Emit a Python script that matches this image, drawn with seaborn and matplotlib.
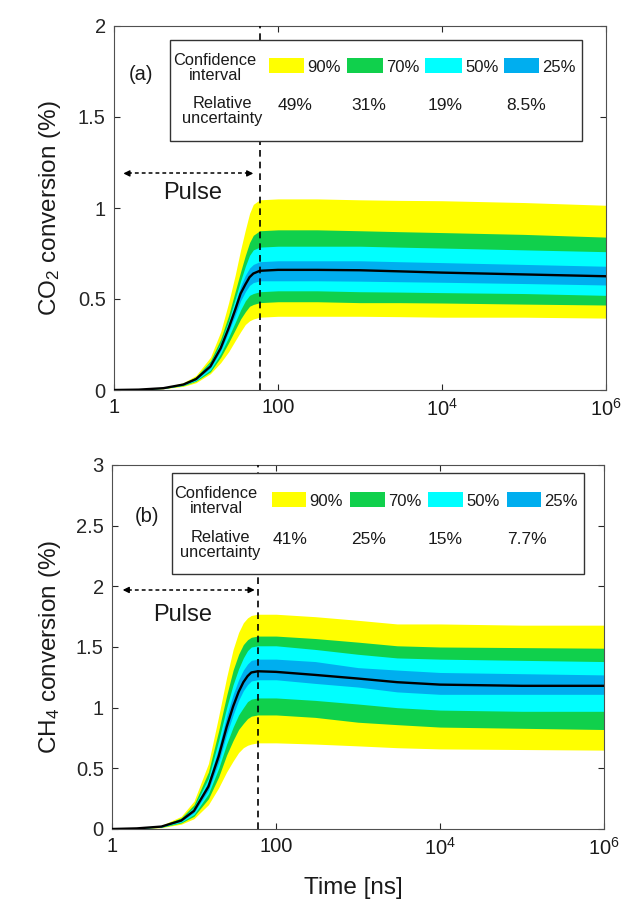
import numpy as np
import pandas as pd
import matplotlib
matplotlib.use("Agg")
import matplotlib.pyplot as plt
from matplotlib.patches import Rectangle
from matplotlib.ticker import FixedLocator, FixedFormatter, FuncFormatter, NullLocator
import seaborn as sns

# ---------------- data ----------------
times = [1, 2, 4, 7, 10, 15, 20, 25, 30, 35, 40, 45, 50, 60, 100, 300, 1e3, 3e3, 1e4, 1e5, 1e6]

co2_median    = [0, 0.002, 0.01, 0.03, 0.06, 0.13, 0.23, 0.34, 0.44, 0.53, 0.58, 0.62, 0.64, 0.655, 0.66, 0.66, 0.658, 0.652, 0.645, 0.635, 0.625]
co2_blue_hi   = [0, 0.0021, 0.0105, 0.032, 0.064, 0.14, 0.245, 0.36, 0.47, 0.57, 0.63, 0.67, 0.69, 0.705, 0.71, 0.71, 0.71, 0.705, 0.70, 0.69, 0.68]
co2_blue_lo   = [0, 0.0019, 0.0095, 0.028, 0.056, 0.12, 0.215, 0.32, 0.41, 0.49, 0.54, 0.575, 0.59, 0.60, 0.60, 0.60, 0.598, 0.595, 0.592, 0.585, 0.577]
co2_cyan_hi   = [0, 0.0023, 0.011, 0.034, 0.068, 0.15, 0.26, 0.38, 0.50, 0.60, 0.68, 0.74, 0.77, 0.785, 0.79, 0.79, 0.79, 0.785, 0.78, 0.77, 0.76]
co2_cyan_lo   = [0, 0.0017, 0.009, 0.026, 0.052, 0.11, 0.20, 0.29, 0.37, 0.44, 0.49, 0.52, 0.53, 0.54, 0.545, 0.545, 0.54, 0.538, 0.535, 0.53, 0.52]
co2_green_hi  = [0, 0.0025, 0.012, 0.036, 0.072, 0.16, 0.28, 0.41, 0.54, 0.65, 0.74, 0.81, 0.85, 0.875, 0.88, 0.88, 0.875, 0.87, 0.865, 0.855, 0.84]
co2_green_lo  = [0, 0.0015, 0.008, 0.024, 0.048, 0.10, 0.18, 0.26, 0.33, 0.39, 0.43, 0.46, 0.47, 0.48, 0.485, 0.485, 0.48, 0.48, 0.478, 0.472, 0.467]
co2_yellow_hi = [0, 0.003, 0.013, 0.04, 0.08, 0.18, 0.32, 0.48, 0.63, 0.77, 0.88, 0.97, 1.02, 1.045, 1.05, 1.05, 1.045, 1.042, 1.04, 1.03, 1.015]
co2_yellow_lo = [0, 0.001, 0.007, 0.02, 0.04, 0.09, 0.15, 0.21, 0.27, 0.32, 0.36, 0.38, 0.39, 0.40, 0.405, 0.405, 0.405, 0.403, 0.40, 0.40, 0.395]

ch4_median    = [0, 0.005, 0.02, 0.07, 0.15, 0.35, 0.60, 0.84, 1.01, 1.13, 1.21, 1.26, 1.29, 1.30, 1.295, 1.27, 1.24, 1.21, 1.19, 1.18, 1.18]
ch4_blue_hi   = [0, 0.0055, 0.022, 0.077, 0.165, 0.39, 0.67, 0.93, 1.11, 1.23, 1.31, 1.36, 1.39, 1.40, 1.40, 1.38, 1.33, 1.31, 1.29, 1.28, 1.27]
ch4_blue_lo   = [0, 0.0045, 0.018, 0.063, 0.135, 0.32, 0.55, 0.78, 0.94, 1.06, 1.14, 1.19, 1.22, 1.23, 1.23, 1.20, 1.17, 1.13, 1.11, 1.11, 1.11]
ch4_cyan_hi   = [0, 0.006, 0.024, 0.084, 0.18, 0.42, 0.73, 1.00, 1.19, 1.32, 1.41, 1.47, 1.50, 1.51, 1.51, 1.48, 1.44, 1.41, 1.40, 1.39, 1.38]
ch4_cyan_lo   = [0, 0.004, 0.016, 0.057, 0.12, 0.29, 0.50, 0.70, 0.84, 0.94, 1.00, 1.05, 1.07, 1.08, 1.08, 1.06, 1.03, 1.00, 0.98, 0.97, 0.97]
ch4_green_hi  = [0, 0.0065, 0.026, 0.092, 0.20, 0.47, 0.81, 1.10, 1.31, 1.44, 1.52, 1.56, 1.58, 1.59, 1.59, 1.57, 1.54, 1.51, 1.50, 1.495, 1.49]
ch4_green_lo  = [0, 0.0035, 0.014, 0.05, 0.105, 0.25, 0.43, 0.61, 0.73, 0.82, 0.87, 0.91, 0.93, 0.94, 0.94, 0.92, 0.88, 0.86, 0.84, 0.83, 0.82]
ch4_yellow_hi = [0, 0.007, 0.029, 0.105, 0.23, 0.54, 0.93, 1.25, 1.48, 1.62, 1.70, 1.74, 1.76, 1.77, 1.77, 1.75, 1.72, 1.69, 1.69, 1.68, 1.68]
ch4_yellow_lo = [0, 0.003, 0.011, 0.04, 0.085, 0.20, 0.34, 0.47, 0.56, 0.63, 0.67, 0.69, 0.70, 0.71, 0.71, 0.70, 0.685, 0.67, 0.66, 0.655, 0.65]

conf_labels = ["90%", "70%", "50%", "25%"]
co2_uncert = ["49%", "31%", "19%", "8.5%"]
ch4_uncert = ["41%", "25%", "15%", "7.7%"]
x_ticks = [1, 100, 1e4, 1e6]
x_ticklabels = ["1", "100", "$10^4$", "$10^6$"]
pulse_end = 60

band_colors = ["#ffff00", "#10d04c", "#00ffff", "#00aeef"]

# ---------------- style ----------------
sns.set_theme(style="ticks")
plt.rcParams["font.family"] = ["Liberation Sans", "DejaVu Sans"]
plt.rcParams["mathtext.fontset"] = "custom"
plt.rcParams["mathtext.rm"] = "Liberation Sans"
plt.rcParams["mathtext.it"] = "Liberation Sans:italic"

W, H = 636, 906
fig = plt.figure(figsize=(W / 100, H / 100), dpi=100)

def make_ax(l, r, t, b):
    return fig.add_axes([l / W, 1 - b / H, (r - l) / W, (b - t) / H])

ax_top = make_ax(114, 606, 26, 390)
ax_bot = make_ax(112, 604, 465, 829)

panels = [
    dict(ax=ax_top, px=(114, 606, 26, 390), ymax=2, yticks=[0, 0.5, 1, 1.5, 2],
         ylabel="CO$_2$ conversion (%)", med=co2_median,
         bands=[(co2_yellow_lo, co2_yellow_hi), (co2_green_lo, co2_green_hi),
                (co2_cyan_lo, co2_cyan_hi), (co2_blue_lo, co2_blue_hi)],
         uncert=co2_uncert, tag="(a)", tagpos=(141, 75),
         box=(170, 582, 40, 141), conf_c=(215, 68), rel_c=(222, 111), val_y=106,
         sw=[(269, 304), (347, 383), (425, 462), (504, 539)], sw_y=(58, 73),
         val_x=[295, 369, 445, 526],
         pulse=dict(x0=1.3, x1=50, y=1.19, tx=(193, 193))),
    dict(ax=ax_bot, px=(112, 604, 465, 829), ymax=3, yticks=[0, 0.5, 1, 1.5, 2, 2.5, 3],
         ylabel="CH$_4$ conversion (%)", med=ch4_median,
         bands=[(ch4_yellow_lo, ch4_yellow_hi), (ch4_green_lo, ch4_green_hi),
                (ch4_cyan_lo, ch4_cyan_hi), (ch4_blue_lo, ch4_blue_hi)],
         uncert=ch4_uncert, tag="(b)", tagpos=(147, 517),
         box=(172, 584, 473, 574), conf_c=(216, 501), rel_c=(220, 545), val_y=540,
         sw=[(272, 306), (350, 385), (428, 463), (507, 541)], sw_y=(492, 507),
         val_x=[290, 369, 445, 527],
         pulse=dict(x0=1.35, x1=55, y=1.97, tx=(183, 615))),
]

for p in panels:
    ax = p["ax"]
    l, r, t, b = p["px"]
    fx = lambda px: (px - l) / (r - l)
    fy = lambda py: (b - py) / (b - t)

    for (lo, hi), c in zip(p["bands"], band_colors):
        ax.fill_between(times, lo, hi, color=c, linewidth=0, zorder=1)
    df = pd.DataFrame({"t": times, "v": p["med"]})
    sns.lineplot(data=df, x="t", y="v", ax=ax, color="black", linewidth=1.7, zorder=3)

    ax.axvline(pulse_end, color="black", linewidth=1.2, linestyle=(0, (4, 3)), zorder=4)

    ax.set_xscale("log")
    ax.set_xlim(1, 1e6)
    ax.set_ylim(0, p["ymax"])
    ax.xaxis.set_major_locator(FixedLocator(x_ticks))
    ax.xaxis.set_major_formatter(FixedFormatter(x_ticklabels))
    ax.xaxis.set_minor_locator(NullLocator())
    ax.yaxis.set_major_locator(FixedLocator(p["yticks"]))
    ax.yaxis.set_major_formatter(FuncFormatter(lambda v, pos: "%g" % v))
    ax.tick_params(direction="in", length=4, width=0.8, labelsize=14.5, pad=6,
                   top=True, right=True, colors="#262626")
    ax.tick_params(axis="x", labelcolor="#1a1a1a")
    for s in ax.spines.values():
        s.set_visible(True)
        s.set_color("#505050")
        s.set_linewidth(0.8)
    ax.set_ylabel(p["ylabel"], fontsize=17.5, color="#1a1a1a")
    ax.yaxis.set_label_coords(fx(63), 0.5)
    ax.set_xlabel("")

    # pulse arrow
    pu = p["pulse"]
    ax.plot([pu["x0"] * 1.15, pu["x1"] / 1.15], [pu["y"], pu["y"]], color="black",
            linewidth=1.1, linestyle=(0, (2.5, 2)), zorder=4)
    ax.annotate("", xy=(pu["x0"], pu["y"]), xytext=(pu["x0"] * 1.2, pu["y"]),
                arrowprops=dict(arrowstyle="-|>", color="black", lw=1.0,
                                mutation_scale=9, shrinkA=0, shrinkB=0), zorder=4)
    ax.annotate("", xy=(pu["x1"], pu["y"]), xytext=(pu["x1"] / 1.2, pu["y"]),
                arrowprops=dict(arrowstyle="-|>", color="black", lw=1.0,
                                mutation_scale=9, shrinkA=0, shrinkB=0), zorder=4)
    ax.text(fx(pu["tx"][0]), fy(pu["tx"][1]), "Pulse", transform=ax.transAxes,
            ha="center", va="center", fontsize=17, color="#1a1a1a", zorder=4)

    # legend / info box
    bl, br, bt, bb = p["box"]
    ax.add_patch(Rectangle((fx(bl), fy(bb)), fx(br) - fx(bl), fy(bt) - fy(bb),
                           transform=ax.transAxes, facecolor="white",
                           edgecolor="#333333", linewidth=1.0, zorder=5))
    ax.text(fx(p["conf_c"][0]), fy(p["conf_c"][1]), "Confidence\ninterval",
            transform=ax.transAxes, ha="center", va="center", fontsize=11.8,
            linespacing=1.05, zorder=6, color="#1a1a1a")
    ax.text(fx(p["rel_c"][0]), fy(p["rel_c"][1]), "Relative\nuncertainty",
            transform=ax.transAxes, ha="center", va="center", fontsize=11.8,
            linespacing=1.05, zorder=6, color="#1a1a1a")
    sy0, sy1 = p["sw_y"]
    for (sx0, sx1), c, lab in zip(p["sw"], band_colors, conf_labels):
        ax.add_patch(Rectangle((fx(sx0), fy(sy1)), fx(sx1) - fx(sx0), fy(sy0) - fy(sy1),
                               transform=ax.transAxes, facecolor=c, edgecolor="none",
                               zorder=6))
        ax.text(fx(sx1 + 3), fy((sy0 + sy1) / 2 + 2), lab, transform=ax.transAxes,
                ha="left", va="center", fontsize=12, zorder=6, color="#1a1a1a")
    for vx, u in zip(p["val_x"], p["uncert"]):
        ax.text(fx(vx), fy(p["val_y"]), u, transform=ax.transAxes, ha="center",
                va="center", fontsize=12.5, zorder=6, color="#1a1a1a")
    ax.text(fx(p["tagpos"][0]), fy(p["tagpos"][1]), p["tag"], transform=ax.transAxes,
            ha="center", va="center", fontsize=14.5, zorder=6, color="#1a1a1a")

ax_bot.set_xlabel("Time [ns]", fontsize=17.5, color="#1a1a1a")
ax_bot.xaxis.label.set_va("center")
ax_bot.xaxis.set_label_coords((353 - 112) / 492, (829 - 888) / 364)

fig.savefig("out.png", dpi=100, facecolor="white")
